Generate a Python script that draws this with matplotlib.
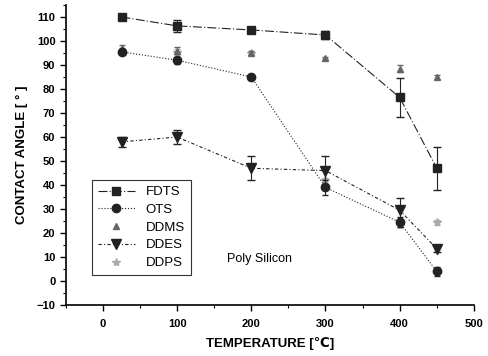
import matplotlib
matplotlib.use('Agg')
import matplotlib.pyplot as plt
from matplotlib.ticker import MultipleLocator

plt.rcParams['font.family'] = ['Liberation Sans', 'DejaVu Sans']

# Dados (Poly Silicon)
temps = [25, 100, 200, 300, 400, 450]
names = ['FDTS', 'OTS', 'DDMS', 'DDES', 'DDPS']

fdts = [110, 106.3, 104.6, 102.5, 76.5, 47]
fdts_err = [0.5, 2.5, 1, 1.5, 8, 9]

ots = [95.5, 92, 85, 39, 24.5, 4]
ots_err = [1, 1.5, 1, 3, 2, 2]

ddms = [97, 96, 95, 93, 88.5, 85]
ddms_err = [1.5, 1.5, 1, 0.5, 1.5, 1]

ddes = [58, 60, 47, 46, 29.5, 13.5]
ddes_err = [2, 3, 5, 6, 5, 1.5]

ddps = [96, 95.5, 95, 42, 23.5, 24.5]
ddps_err = [1, 1, 1, 1, 1, 1]

fig = plt.figure(figsize=(4.88, 3.56), dpi=100)
ax = fig.add_axes([0.135, 0.143, 0.836, 0.843])

series = []
series.append(ax.errorbar(temps, fdts, yerr=fdts_err, color='#222222', marker='s', ms=6,
                          ls=(0, (8, 2, 1, 2)), lw=0.8, capsize=3, elinewidth=0.8,
                          zorder=5))
series.append(ax.errorbar(temps, ots, yerr=ots_err, color='#222222', marker='o', ms=6,
                          ls=':', lw=0.8, capsize=2, elinewidth=0.8, zorder=5))
series.append(ax.errorbar(temps, ddms, yerr=ddms_err, color='#666666', marker='^', ms=5,
                          ls='none', capsize=2, elinewidth=0.6, zorder=4))
series.append(ax.errorbar(temps, ddes, yerr=ddes_err, color='#222222', marker='v', ms=7,
                          ls=(0, (3, 2, 1, 2)), lw=0.8, capsize=3, elinewidth=0.8,
                          zorder=5))
series.append(ax.errorbar(temps, ddps, yerr=ddps_err, color='#aaaaaa', marker='*', ms=6,
                          ls='none', capsize=2, elinewidth=0.5, zorder=3))

ax.set_xlim(-50, 500)
ax.set_ylim(-10, 115)
ax.xaxis.set_major_locator(MultipleLocator(100))
ax.xaxis.set_minor_locator(MultipleLocator(50))
ax.yaxis.set_minor_locator(MultipleLocator(5))
ax.set_yticks(range(-10, 111, 10))

for s in ['top', 'right']:
    ax.spines[s].set_visible(False)
for s in ['left', 'bottom']:
    ax.spines[s].set_linewidth(1.2)

ax.tick_params(which='major', direction='out', length=4, width=1,
               labelsize=8)
ax.tick_params(which='minor', direction='out', length=2.5, width=0.8)
for lab in ax.get_xticklabels() + ax.get_yticklabels():
    lab.set_fontweight('bold')
ax.tick_params(axis='x', pad=6)

ax.set_xlabel('TEMPERATURE [℃]', fontsize=9.5, fontweight='bold', labelpad=6)
ax.set_ylabel('CONTACT ANGLE [ ° ]', fontsize=9.5, fontweight='bold', labelpad=6)

leg = ax.legend([c[0] for c in series], names, loc='upper left',
                bbox_to_anchor=(0.064, 0.417), borderaxespad=0, fontsize=9.5,
                frameon=True, fancybox=False, edgecolor='black',
                handlelength=2.8, labelspacing=0.42, borderpad=0.45)
leg.get_frame().set_linewidth(0.8)

ax.text(167, 8, 'Poly Silicon', fontsize=9)

fig.savefig('out.png', dpi=100)
